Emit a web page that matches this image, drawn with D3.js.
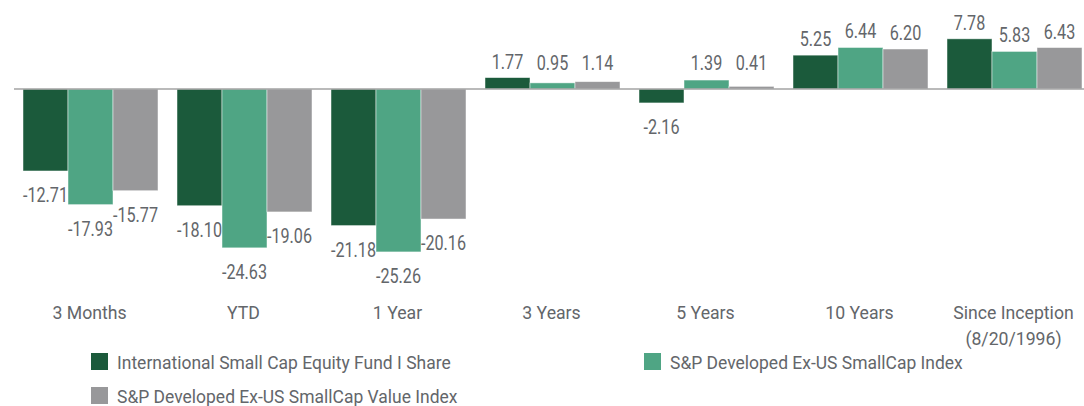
<!DOCTYPE html>
<html>
<head>
<meta charset="utf-8">
<script src="https://cdn.jsdelivr.net/npm/d3@7"></script>
<style>
  body { margin: 0; background: #fff; }
  text { font-family: Roboto, "Noto Sans", sans-serif; fill: #63666a; }
</style>
</head>
<body>
<div id="container"></div>
<script>
/* CONSTANTS AND GLOBALS */
const width = 1084,
  height = 406;

/* DATA */
const categories = ["3 Months", "YTD", "1 Year", "3 Years", "5 Years", "10 Years", "Since Inception|(8/20/1996)"];
const seriesNames = [
  "International Small Cap Equity Fund I Share",
  "S&P Developed Ex-US SmallCap Index",
  "S&P Developed Ex-US SmallCap Value Index"
];
const fundValues = [-12.71, -18.10, -21.18, 1.77, -2.16, 5.25, 7.78];
const indexValues = [-17.93, -24.63, -25.26, 0.95, 1.39, 6.44, 5.83];
const valueIndexValues = [-15.77, -19.06, -20.16, 1.14, 0.41, 6.20, 6.43];
const colors = ["#1b5a3b", "#4fa584", "#98989a"];

const seriesValues = [fundValues, indexValues, valueIndexValues];
const data = categories.map((c, i) => ({
  category: c,
  values: seriesNames.map((s, j) => ({ series: s, value: seriesValues[j][i] }))
}));

// SCALES
const xScale = d3.scaleBand()
  .domain(categories)
  .range([13.5, 1091.5])
  .paddingInner(19 / 154)
  .paddingOuter(19 / 154 / 2);

const x1 = d3.scaleBand()
  .domain(seriesNames)
  .range([0, xScale.bandwidth()]);

const yScale = d3.scaleLinear()
  .domain([-30, 10])
  .range([282.5, 24.5]);

const color = d3.scaleOrdinal().domain(seriesNames).range(colors);

// CREATE SVG ELEMENT
const svg = d3.select("#container")
  .append("svg")
  .attr("width", width)
  .attr("height", height);

// helper for condensed text
function squeezed(sel, x, y, sx) {
  return sel.attr("transform", `translate(${x},${y}) scale(${sx},1)`);
}

// bars
const groups = svg.selectAll("g.group")
  .data(data)
  .join("g")
  .attr("class", "group")
  .attr("transform", d => `translate(${xScale(d.category)},0)`);

groups.selectAll("rect")
  .data(d => d.values)
  .join("rect")
  .attr("x", d => x1(d.series))
  .attr("width", x1.bandwidth())
  .attr("y", d => yScale(Math.max(0, d.value)))
  .attr("height", d => Math.abs(yScale(d.value) - yScale(0)))
  .attr("fill", d => color(d.series))
  .attr("stroke", "#ffffff")
  .attr("stroke-opacity", 0.6)
  .attr("stroke-width", 0.8);

// zero line
svg.append("line")
  .attr("x1", 14)
  .attr("x2", width)
  .attr("y1", yScale(0))
  .attr("y2", yScale(0))
  .attr("stroke", "#a3a3a3")
  .attr("stroke-width", 1.5);

// value labels
groups.selectAll("text.val")
  .data(d => d.values)
  .join("text")
  .attr("class", "val")
  .attr("text-anchor", "middle")
  .style("font-size", "19.5px")
  .each(function(d) {
    const cx = x1(d.series) + x1.bandwidth() / 2;
    const cy = d.value >= 0
      ? Math.min(yScale(d.value) - 9, yScale(0) - 19)
      : yScale(d.value) + 31;
    squeezed(d3.select(this), cx, cy, 0.83);
  })
  .text(d => d.value.toFixed(2));

// category labels
svg.selectAll("text.cat")
  .data(categories)
  .join("text")
  .attr("class", "cat")
  .attr("text-anchor", "middle")
  .style("font-size", "19px")
  .each(function(d) {
    const t = d3.select(this);
    squeezed(t, xScale(d) + xScale.bandwidth() / 2 - 1, 319, 0.93);
    d.split("|").forEach((line, i) => {
      t.append("tspan").attr("x", 0).attr("dy", i === 0 ? 0 : 26).text(line);
    });
  });

// legend
const legendPos = [[91, 353], [644, 353], [91, 387]];
const legend = svg.selectAll("g.legend")
  .data(seriesNames)
  .join("g")
  .attr("class", "legend")
  .attr("transform", (d, i) => `translate(${legendPos[i][0]},${legendPos[i][1]})`);

legend.append("rect")
  .attr("width", 17)
  .attr("height", 17)
  .attr("fill", d => color(d));

legend.append("text")
  .style("font-size", "19px")
  .each(function() { squeezed(d3.select(this), 26, 16, 0.92); })
  .text(d => d);
</script>
</body>
</html>
